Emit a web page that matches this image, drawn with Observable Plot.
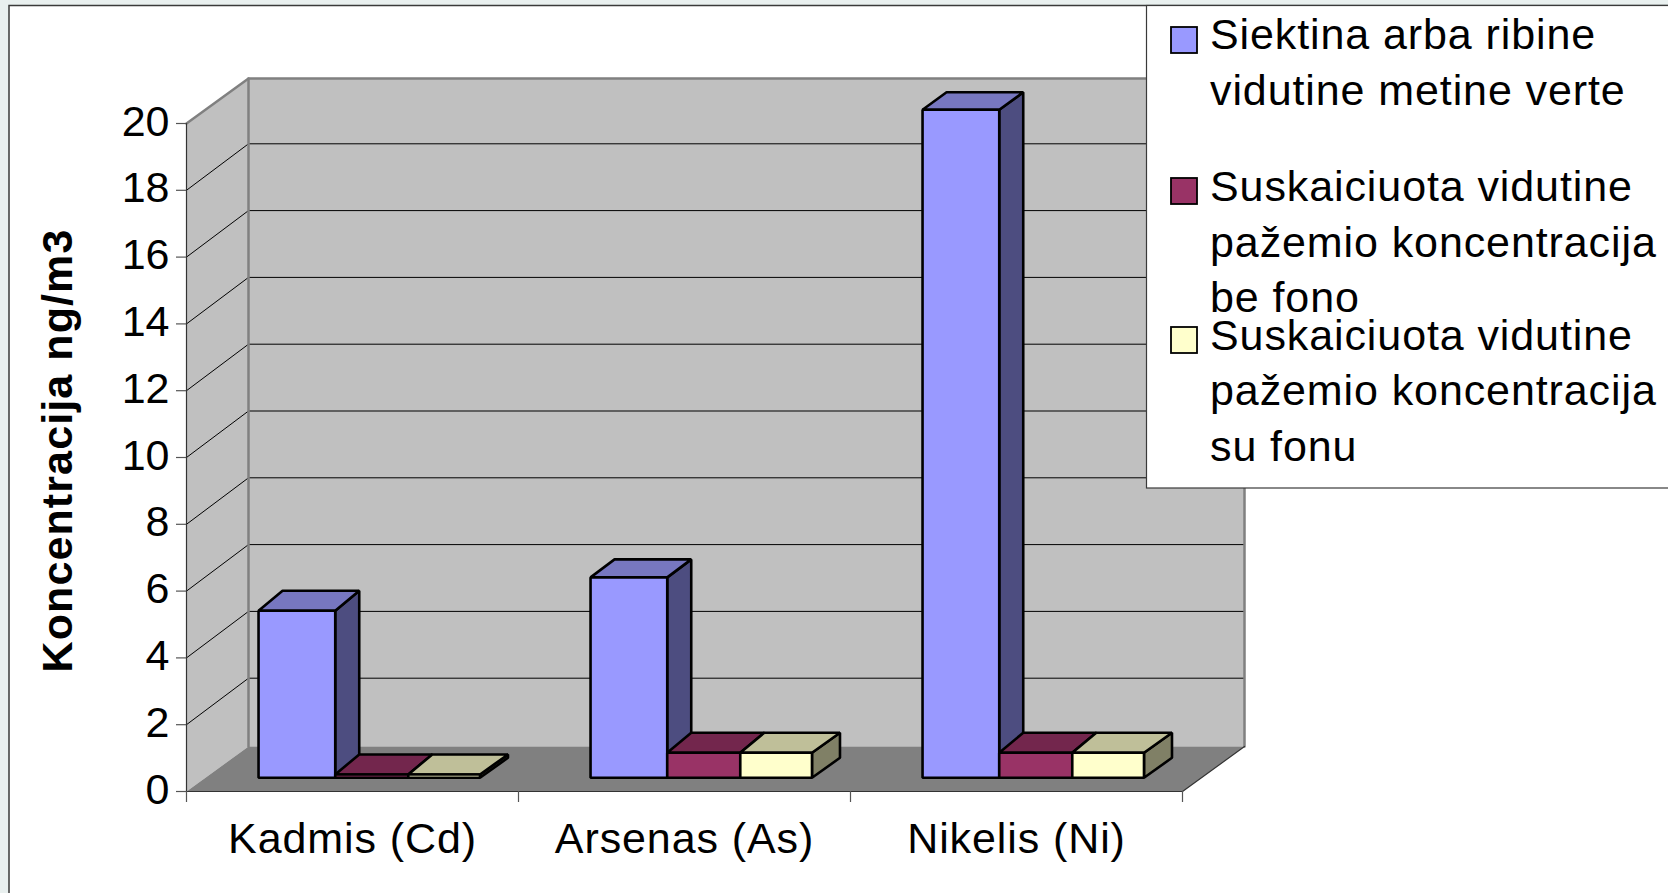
<!DOCTYPE html>
<html><head><meta charset="utf-8">
<script src="https://cdn.jsdelivr.net/npm/d3@7"></script>
<script src="https://cdn.jsdelivr.net/npm/@observablehq/plot@0.6"></script>
<style>html,body{margin:0;padding:0;background:#e9f0ef;overflow:hidden}svg{display:block}.cat text{letter-spacing:.9px}</style>
</head><body><div id="chart"></div>
<script>
const categories = ["Kadmis (Cd)", "Arsenas (As)", "Nikelis (Ni)"];
const target = [5, 6, 20];
const withoutBackground = [0.1, 0.75, 0.75];
const withBackground = [0.1, 0.75, 0.75];
const yTicks = [0, 2, 4, 6, 8, 10, 12, 14, 16, 18, 20];
const yTitle = "Koncentracija ng/m3";
const legendEntries = [
  {lines: ["Siektina arba ribine", "vidutine metine verte"], baselines: [49, 105], swatch: [27, 26]},
  {lines: ["Suskaiciuota vidutine", "pažemio koncentracija", "be fono"], baselines: [201, 257, 312], swatch: [178, 26]},
  {lines: ["Suskaiciuota vidutine", "pažemio koncentracija", "su fonu"], baselines: [350, 405, 461], swatch: [327, 26]}
];
const seriesColors = [
  {front: "#9999ff", top: "#7777c0", side: "#4d4d80"},
  {front: "#993366", top: "#73264d", side: "#4d1a33"},
  {front: "#ffffcc", top: "#bfbf99", side: "#808066"}
];
const seriesValues = [target, withoutBackground, withBackground];

// layout of the oblique projection, in scale units
const W = 1668, H = 893;
const L = 186, R = 1182, T = 123, B = 791;
const uX = (R - L) / 3, uY = (B - T) / 20;
const wallDx = 62 / uX, wallDy = 45 / uY, gridDy = 46.5 / uY;
const barDx = 24 / uX, barDy = 20 / uY, barLift = 13.7 / uY;
const tallTopDepth = [20 / uY, 18 / uY, 17.5 / uY];
const lastSkew = 4 / uX;
const barEdges = [0.217, 0.448, 0.668, 0.884];

const wallPolys = [];
const addPoly = (list, id, fill, pts) => pts.forEach(([x, y]) => list.push({id, fill, x, y}));
addPoly(wallPolys, "left", "#c0c0c0", [[0,0],[0,20],[wallDx,20+wallDy],[wallDx,wallDy]]);
addPoly(wallPolys, "back", "#c0c0c0", [[wallDx,wallDy],[wallDx,20+wallDy],[3+wallDx,20+wallDy],[3+wallDx,wallDy]]);
addPoly(wallPolys, "floor", "#808080", [[0,0],[wallDx,wallDy],[3+wallDx,wallDy],[3,0]]);

const grid = yTicks.filter(v => v > 0 && v < 20).flatMap(v => [
  {v, x: 0, y: v}, {v, x: wallDx, y: v + gridDy}, {v, x: 3 + wallDx, y: v + gridDy}
]);

const barPolys = [];
categories.forEach((c, i) => {
  seriesValues.forEach((vals, s) => {
    const x0 = i + barEdges[s], x1 = i + barEdges[s + 1], v = vals[i], b = barLift, t = v + barLift;
    const col = seriesColors[s], id = `${i}-${s}`;
    const bx = x1 + barDx + (s === 2 ? lastSkew : 0);
    const d = s === 0 ? tallTopDepth[i] : barDy;
    addPoly(barPolys, id + "side", col.side, [[x1,b],[x1,t],[bx,t+d],[bx,b+barDy]]);
    addPoly(barPolys, id + "top", col.top, [[x0,t],[x1,t],[bx,t+d],[x0+barDx,t+d]]);
    addPoly(barPolys, id + "front", col.front, [[x0,b],[x1,b],[x1,t],[x0,t]]);
  });
});

const FONT = "'Liberation Sans', Arial, sans-serif";
const plot = Plot.plot({
  width: W, height: H,
  marginLeft: L, marginRight: W - R, marginTop: T, marginBottom: H - B,
  x: {domain: [0, 3], axis: null},
  y: {domain: [0, 20], axis: null},
  color: {type: "identity"},
  style: {fontFamily: FONT, background: "#e9f0ef", color: "#000", overflow: "visible"},
  marks: [
    Plot.line(wallPolys, {x: "x", y: "y", z: "id", fill: "fill", stroke: "none", curve: "linear-closed"}),
    Plot.line(grid, {x: "x", y: "y", z: "v", stroke: "#000", strokeWidth: 1, strokeLinejoin: "miter"}),
    // wall outlines
    Plot.line([{x:0,y:20},{x:wallDx,y:20+wallDy},{x:3+wallDx,y:20+wallDy},{x:3+wallDx,y:wallDy}], {x:"x",y:"y",stroke:"#808080",strokeWidth:2.5}),
    Plot.line([{x:wallDx,y:20+wallDy},{x:wallDx,y:wallDy}], {x:"x",y:"y",stroke:"#808080",strokeWidth:2.5}),
    // front edges
    Plot.line([{x:0,y:20},{x:0,y:0},{x:3,y:0},{x:3+wallDx,y:wallDy}], {x:"x",y:"y",stroke:"#333",strokeWidth:1.2}),
    // ticks
    Plot.ruleY(yTicks, {y: d => d, x1: -10 / uX, x2: 0, stroke: "#555", strokeWidth: 1.2}),
    Plot.ruleX([0, 1, 2, 3], {x: d => d, y1: 0, y2: -11 / uY, stroke: "#555", strokeWidth: 1.2}),
    Plot.text(yTicks, {x: () => 0, y: d => d, text: d => String(d), textAnchor: "end", lineAnchor: "bottom", dx: -17, dy: 12, fontSize: 43, fill: "#000"}),
    Plot.text(categories, {x: (d, i) => i + 0.5, y: () => -61 / uY, text: d => d, textAnchor: "middle", lineAnchor: "bottom", fontSize: 43, fill: "#000", className: "cat"}),
    // bars
    Plot.line(barPolys, {x: "x", y: "y", z: "id", fill: "fill", stroke: "#000", strokeWidth: 2.6, curve: "linear-closed", strokeLinejoin: "miter"})
  ]
});

const svg = d3.select(plot);
// panel background
svg.insert("rect", ":first-child").attr("x", 9).attr("y", 5.5).attr("width", W + 20).attr("height", H + 20)
  .attr("fill", "#fff").attr("stroke", "#3a3a3a").attr("stroke-width", 1.5);
// y title
svg.append("text").attr("transform", "translate(72,450.5) rotate(-90)").attr("text-anchor", "middle")
  .attr("font-size", 43).attr("font-weight", "bold").attr("letter-spacing", "1.1px").attr("fill", "#000").text(yTitle);
// legend
const lg = svg.append("g").attr("class", "legend").attr("text-anchor", "start");
lg.append("rect").attr("x", 1146.5).attr("y", 5.5).attr("width", W).attr("height", 482.5)
  .attr("fill", "#fff").attr("stroke", "#3a3a3a").attr("stroke-width", 1.2);
legendEntries.forEach((e, i) => {
  lg.append("rect").attr("x", 1171).attr("y", e.swatch[0]).attr("width", e.swatch[1]).attr("height", e.swatch[1])
    .attr("fill", seriesColors[i].front).attr("stroke", "#000").attr("stroke-width", 1.8);
  e.lines.forEach((t, j) => {
    lg.append("text").attr("x", 1210).attr("y", e.baselines[j]).attr("font-size", 43)
      .attr("text-anchor", "start").attr("letter-spacing", "0.9px").attr("fill", "#000").text(t);
  });
});
document.getElementById("chart").append(plot);
</script></body></html>
